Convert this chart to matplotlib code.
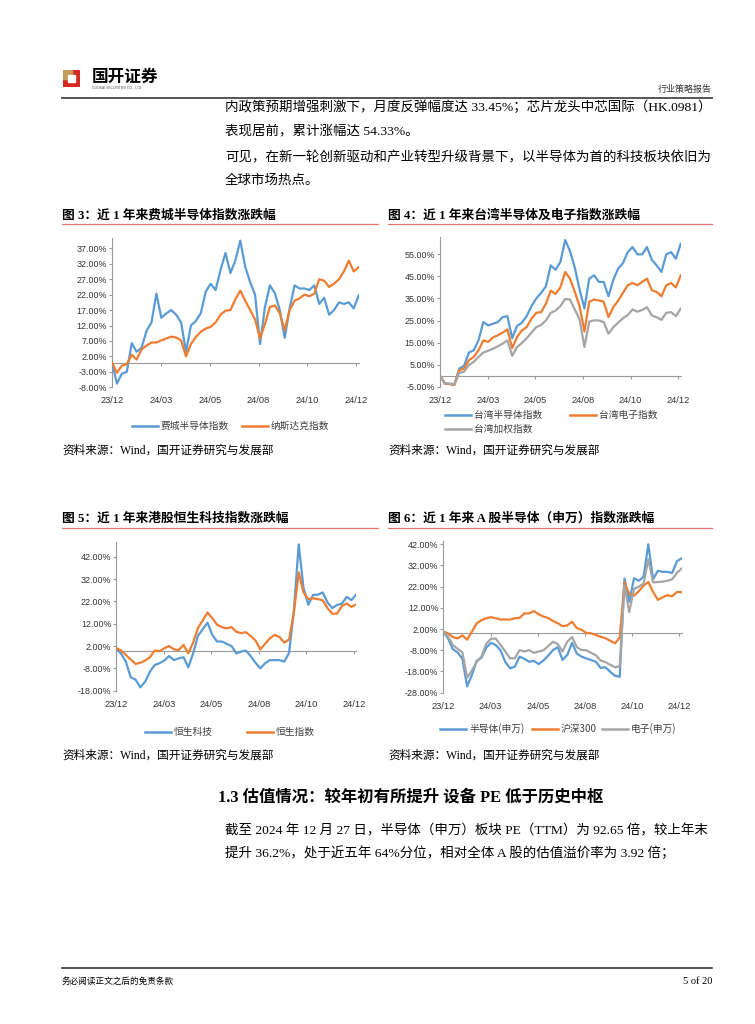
import numpy as np
import matplotlib.pyplot as plt
import matplotlib.transforms as mtransforms
from matplotlib.lines import Line2D
from matplotlib.patches import Rectangle

# ---- data (% change over the past year) ----
x_labels = ['23/12', '24/03', '24/05', '24/08', '24/10', '24/12']

# fig 3
phlx_semi = [0, -6.8, -3.6, -3.0, 6.3, 3.5, 4.8, 10.3, 13.0, 22.3, 14.5, 15.9, 17.0, 15.5, 13.0, 3.5,
             12.0, 13.5, 16.0, 23.0, 25.5, 23.5, 30.0, 35.5, 29.0, 33.0, 39.5, 31.0, 26.0, 22.0, 6.0,
             18.0, 25.0, 22.5, 17.0, 8.0, 17.5, 25.0, 24.0, 24.0, 23.5, 25.0, 19.0, 21.0, 15.5, 17.0,
             19.5, 19.0, 19.5, 17.5, 21.8]
nasdaq = [0, -3.3, -1.0, -0.5, 2.5, 1.0, 4.3, 5.5, 6.5, 6.5, 7.2, 7.8, 8.4, 8.1, 7.2, 2.0,
          6.0, 8.3, 10.0, 11.0, 11.6, 13.0, 15.5, 16.8, 17.0, 20.5, 23.3, 20.0, 17.0, 14.0, 7.8,
          12.5, 18.0, 18.5, 16.0, 10.5, 17.0, 20.0, 20.8, 22.0, 21.5, 22.3, 27.0, 26.5, 24.5, 25.5,
          27.0, 29.5, 33.0, 29.5, 30.9]

# fig 4
tw_semi = [0, -3.6, -3.8, -4.0, 3.2, 4.5, 10.5, 11.5, 16.0, 24.3, 22.8, 23.5, 24.3, 26.5, 27.0, 17.0,
           22.5, 24.0, 27.0, 31.5, 35.0, 37.5, 40.5, 50.0, 48.0, 51.5, 61.5, 56.5, 49.0, 39.0, 30.5,
           44.0, 45.5, 42.5, 42.5, 36.0, 43.5, 48.5, 51.0, 56.0, 58.3, 55.0, 55.0, 58.3, 52.5, 50.0,
           47.0, 55.0, 56.0, 53.0, 59.8]
tw_elec = [0, -3.5, -3.8, -4.2, 2.5, 3.2, 7.0, 8.5, 11.5, 16.0, 15.3, 17.3, 18.3, 19.5, 21.0, 12.5,
           17.5, 20.5, 22.0, 25.8, 28.5, 28.8, 32.6, 38.5, 37.0, 40.0, 47.0, 44.0, 38.0, 31.5, 20.0,
           33.5, 34.5, 34.1, 33.5, 26.5, 31.0, 34.0, 37.5, 41.0, 42.0, 41.0, 42.5, 44.0, 38.7, 38.0,
           36.0, 41.0, 42.0, 40.0, 45.5]
twii = [0, -3.4, -3.6, -3.8, 1.2, 1.8, 4.8, 6.3, 8.5, 10.5, 11.3, 12.2, 13.3, 14.5, 16.0, 9.0,
        13.0, 14.8, 17.0, 19.5, 22.0, 23.0, 25.0, 28.5, 29.5, 31.5, 34.8, 34.5, 30.0, 25.5, 13.0,
        24.5, 25.1, 25.0, 24.3, 19.0, 22.0, 24.0, 26.0, 27.5, 30.0, 29.0, 29.8, 31.0, 27.3, 26.5,
        25.3, 28.5, 28.8, 27.0, 30.4]

# fig 5
hstech = [1.0, -1.5, -5.0, -12.0, -13.0, -16.5, -14.0, -9.5, -6.5, -5.7, -4.5, -2.5, -4.3, -3.5, -3.0, -7.5,
          -1.3, 6.5, 9.5, 12.5, 7.0, 4.0, 4.0, 3.0, 2.0, -1.3, -0.5, 0.0, -2.5, -5.5, -8.0,
          -5.7, -4.3, -4.3, -4.3, -5.0, -1.0, 18.0, 47.5, 28.0, 20.5, 24.9, 25.0, 26.0, 21.5, 19.0,
          20.4, 21.0, 24.0, 22.6, 25.1]
hsi = [1.0, 0.0, -2.0, -4.0, -6.0, -5.5, -4.5, -3.0, 0.0, -0.3, 1.0, 2.0, 0.5, 0.2, 2.5, -1.3,
       3.5, 10.0, 13.5, 17.0, 14.5, 11.5, 10.5, 9.9, 10.5, 8.4, 7.8, 8.2, 6.5, 4.5, 0.5,
       3.0, 5.5, 7.0, 6.0, 3.5, 5.0, 17.0, 35.0, 26.0, 23.0, 23.4, 23.0, 22.5, 19.0, 16.5,
       16.5, 20.0, 21.0, 19.5, 20.7]

# fig 6
sw_semi = [0.8, -2.4, -7.5, -9.0, -12.0, -25.0, -19.7, -13.0, -11.5, -6.8, -4.5, -5.5, -8.0, -13.5, -16.5, -15.7,
           -11.0, -12.0, -13.4, -13.0, -14.5, -12.8, -10.5, -7.9, -6.5, -12.5, -10.2, -4.5, -9.5, -11.0, -11.8,
           -12.6, -13.4, -16.3, -16.0, -18.1, -20.0, -20.5, 25.9, 14.9, 26.0, 24.8, 26.7, 42.0, 25.5, 29.5,
           29.0, 29.0, 28.5, 34.0, 35.4]
csi300 = [0.8, 0.0, -1.8, -2.4, -1.0, -3.0, 0.8, 4.7, 6.2, 7.1, 7.6, 7.1, 6.5, 6.5, 6.5, 7.1,
          7.3, 9.4, 9.4, 10.5, 9.0, 7.9, 7.2, 5.8, 4.8, 3.4, 3.7, 5.5, 2.5, 1.6, 0.2,
          0.0, -0.8, -1.6, -2.3, -3.5, -4.7, -2.0, 24.0, 18.5, 17.8, 19.8, 22.5, 24.2, 19.5, 15.8,
          17.0, 18.0, 17.5, 19.5, 19.4]
sw_elec = [0.8, -1.6, -5.5, -7.3, -9.0, -21.0, -17.5, -13.4, -11.0, -5.0, -2.5, -2.5, -5.5, -8.5, -11.8, -11.8,
           -7.9, -8.6, -7.9, -9.2, -8.6, -8.0, -6.0, -4.0, -5.0, -8.6, -3.9, -1.8, -6.5, -7.9, -8.0,
           -9.2, -10.3, -12.8, -13.6, -14.8, -16.0, -15.5, 22.5, 10.0, 21.0, 22.0, 23.5, 35.0, 24.0, 24.2,
           24.4, 24.8, 25.5, 28.5, 30.6]

BLUE, ORANGE, GRAY = '#5B9BD5', '#ED7D31', '#A5A5A5'
AXIS = '#9A9A9A'
TITLE_RED = '#E57373'
BODY = ['Liberation Serif', 'Noto Sans CJK SC', 'DejaVu Sans']
CJK = ['Noto Sans CJK SC', 'DejaVu Sans']
SANS = ['Liberation Sans', 'DejaVu Sans']

W, H = 755, 1024
fig = plt.figure(figsize=(W / 100, H / 100), dpi=100)


def fx(x):
    return x / W


def fy(y):
    return 1 - y / H


def put(x, y, s, size, ha='left', weight='normal', family=BODY, color='black'):
    fig.text(fx(x), fy(y), s, fontsize=size, ha=ha, va='center',
             weight=weight, family=family, color=color)


def hline(x0, x1, y, color, lw):
    fig.add_artist(Line2D([fx(x0), fx(x1)], [fy(y), fy(y)], color=color, lw=lw,
                          transform=fig.transFigure))


def chart(left, right, top, bottom, series, colors, ylim, yticks):
    ax = fig.add_axes([fx(left), fy(bottom), (right - left) / W, (bottom - top) / H])
    ax.patch.set_alpha(0)
    for vals, c in zip(series, colors):
        ax.plot(np.arange(len(vals)), vals, color=c, lw=1.6, zorder=3,
                solid_joinstyle='round')
    n = len(series[0])
    ax.set_xlim(0, n - 1)
    ax.set_ylim(*ylim)
    for s in ('top', 'right'):
        ax.spines[s].set_visible(False)
    for s in ('left', 'bottom'):
        ax.spines[s].set_color(AXIS)
        ax.spines[s].set_linewidth(0.8)
    ax.spines['bottom'].set_position(('data', 0))
    ax.set_yticks(yticks)
    ax.set_yticklabels([f'{v:.2f}%' for v in yticks], family=SANS, fontsize=6.4,
                       color='#333333')
    ax.tick_params(axis='y', length=2, width=0.8, color=AXIS, pad=1.5)
    ticks = np.linspace(0, n - 1.5, 6)
    ax.set_xticks(ticks)
    ax.set_xticklabels([])
    ax.tick_params(axis='x', length=2, width=0.8, color=AXIS)
    trans = mtransforms.blended_transform_factory(ax.transData, ax.transAxes)
    off = 13.5 / (bottom - top)
    for t, lab in zip(ticks, x_labels):
        ax.text(t, -off, lab, transform=trans, ha='center', va='center',
                family=SANS, fontsize=6.7, color='#333333')
    return ax


def legend(items):
    for x, y, c, label in items:
        hline(x, x + 26, y, c, 1.8)
        put(x + 29, y, label, 7, family=CJK, color='#404040')


# ---- header ----
logo = fig.add_axes([fx(63), fy(87), 17 / W, 17 / H])
logo.set_xlim(0, 1)
logo.set_ylim(0, 1)
logo.axis('off')
logo.add_patch(Rectangle((0, 0), 1, 1, color='#D42A20'))
logo.add_patch(Rectangle((0, 0.5), 0.5, 0.5, color='#C59A5A'))
logo.add_patch(Rectangle((0.27, 0.27), 0.42, 0.42, color='white'))
put(92, 77, '国开证券', 12, weight='bold', family=CJK)
put(92, 88, 'GUOKAI SECURITIES CO., LTD.', 2.4, family=SANS, color='#555555')
put(712, 89, '行业策略报告', 6.5, ha='right', family=CJK, color='#333333')
hline(62, 712, 98, '#555555', 1.4)

# ---- body text ----
put(225, 107, '内政策预期增强刺激下，月度反弹幅度达 33.45%；芯片龙头中芯国际（HK.0981）', 9.7)
put(225, 131, '表现居前，累计涨幅达 54.33%。', 9.7)
put(225, 158, '可见，在新一轮创新驱动和产业转型升级背景下，以半导体为首的科技板块依旧为', 9.7)
put(225, 181, '全球市场热点。', 9.7)

# ---- figure titles ----
TSIZE = 9.2
put(62, 215, '图 3：近 1 年来费城半导体指数涨跌幅', TSIZE, weight='bold')
put(388, 215, '图 4：近 1 年来台湾半导体及电子指数涨跌幅', TSIZE, weight='bold')
hline(62, 378, 224, TITLE_RED, 0.9)
hline(388, 712, 224, TITLE_RED, 0.9)
put(62, 519, '图 5：近 1 年来港股恒生科技指数涨跌幅', TSIZE, weight='bold')
put(388, 519, '图 6：近 1 年来 A 股半导体（申万）指数涨跌幅', TSIZE, weight='bold')
hline(62, 378, 528, TITLE_RED, 0.9)
hline(388, 712, 528, TITLE_RED, 0.9)

# ---- charts ----
chart(112, 358.7, 237.5, 387.3, [phlx_semi, nasdaq], [BLUE, ORANGE],
      (-8, 40.5), np.arange(-8, 38, 5))
legend([(132, 426, BLUE, '费城半导体指数'), (242, 426, ORANGE, '纳斯达克指数')])

chart(440, 680.7, 236.7, 386.7, [tw_semi, tw_elec, twii], [BLUE, ORANGE, GRAY],
      (-5, 63), np.arange(-5, 56, 10))
legend([(445, 415, BLUE, '台湾半导体指数'), (570, 415, ORANGE, '台湾电子指数'),
        (445, 429, GRAY, '台湾加权指数')])

chart(116.3, 356.3, 542.2, 690.7, [hstech, hsi], [BLUE, ORANGE],
      (-18, 48.5), np.arange(-18, 43, 10))
legend([(145, 732, BLUE, '恒生科技'), (247, 732, ORANGE, '恒生指数')])

chart(443.3, 681.7, 541.1, 692.7, [sw_semi, csi300, sw_elec], [BLUE, ORANGE, GRAY],
      (-28, 43.5), np.arange(-28, 43, 10))
legend([(440, 729, BLUE, '半导体(申万)'), (532, 729, ORANGE, '沪深300'),
        (602, 729, GRAY, '电子(申万)')])

# ---- sources ----
for sx, sy in [(62, 451), (388, 451), (62, 756), (388, 756)]:
    put(sx, sy, '资料来源：Wind，国开证券研究与发展部', 8.4)

# ---- section 1.3 ----
put(218, 798, '1.3 估值情况：较年初有所提升 设备 PE 低于历史中枢', 11.8, weight='bold')
put(225, 831, '截至 2024 年 12 月 27 日，半导体（申万）板块 PE（TTM）为 92.65 倍，较上年末', 9.7)
put(225, 853, '提升 36.2%，处于近五年 64%分位，相对全体 A 股的估值溢价率为 3.92 倍；', 9.7)

# ---- footer ----
hline(62, 712, 968, '#333333', 1.2)
put(62, 981, '务必阅读正文之后的免责条款', 6.2, family=CJK)
put(712, 981, '5 of 20', 7.5, ha='right')

fig.savefig('out.png', dpi=100)
